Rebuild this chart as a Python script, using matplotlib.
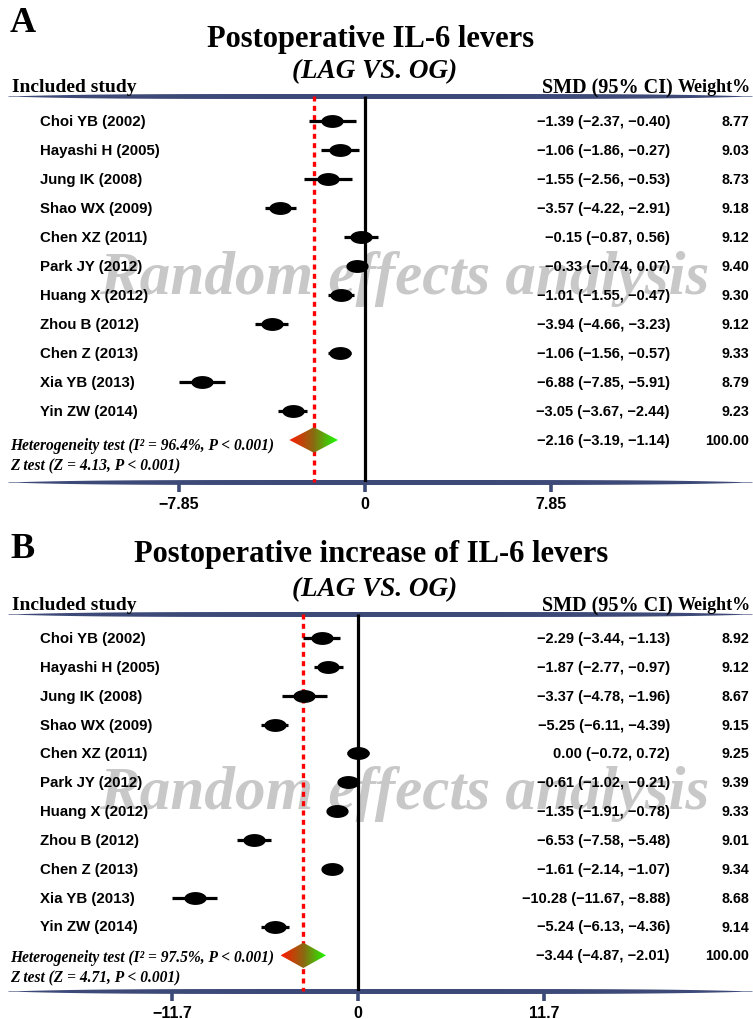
import numpy as np
import matplotlib
matplotlib.use("Agg")
import matplotlib.pyplot as plt
from matplotlib.path import Path
from matplotlib.patches import Polygon
from matplotlib.colors import LinearSegmentedColormap
import matplotlib.transforms as mtransforms

# ---------------- data ----------------
studies = ["Choi YB (2002)", "Hayashi H (2005)", "Jung IK (2008)", "Shao WX (2009)",
           "Chen XZ (2011)", "Park JY (2012)", "Huang X (2012)", "Zhou B (2012)",
           "Chen Z (2013)", "Xia YB (2013)", "Yin ZW (2014)"]

a_smd = [-1.39, -1.06, -1.55, -3.57, -0.15, -0.33, -1.01, -3.94, -1.06, -6.88, -3.05]
a_lo = [-2.37, -1.86, -2.56, -4.22, -0.87, -0.74, -1.55, -4.66, -1.56, -7.85, -3.67]
a_hi = [-0.40, -0.27, -0.53, -2.91, 0.56, 0.07, -0.47, -3.23, -0.57, -5.91, -2.44]
a_w = [8.77, 9.03, 8.73, 9.18, 9.12, 9.40, 9.30, 9.12, 9.33, 8.79, 9.23]
a_pooled = [-2.16, -3.19, -1.14]
a_pooled_w = 100.00
a_ticks = [-7.85, 0, 7.85]
a_title = "Postoperative IL-6 levers"
a_het = "Heterogeneity test (I² = 96.4%, P < 0.001)"
a_z = "Z test (Z = 4.13, P < 0.001)"

b_smd = [-2.29, -1.87, -3.37, -5.25, 0.00, -0.61, -1.35, -6.53, -1.61, -10.28, -5.24]
b_lo = [-3.44, -2.77, -4.78, -6.11, -0.72, -1.02, -1.91, -7.58, -2.14, -11.67, -6.13]
b_hi = [-1.13, -0.97, -1.96, -4.39, 0.72, -0.21, -0.78, -5.48, -1.07, -8.88, -4.36]
b_w = [8.92, 9.12, 8.67, 9.15, 9.25, 9.39, 9.33, 9.01, 9.34, 8.68, 9.14]
b_pooled = [-3.44, -4.87, -2.01]
b_pooled_w = 100.00
b_ticks = [-11.7, 0, 11.7]
b_title = "Postoperative increase of IL-6 levers"
b_het = "Heterogeneity test (I² = 97.5%, P < 0.001)"
b_z = "Z test (Z = 4.71, P < 0.001)"

subtitle = "(LAG VS. OG)"
watermark = "Random effects analysis"

# ---------------- style ----------------
W, H = 753, 1020
SERIF = ["Liberation Serif", "DejaVu Serif"]
SANS = ["Liberation Sans", "DejaVu Sans"]
NAVY = "#3d4a78"

fig = plt.figure(figsize=(W / 100, H / 100), dpi=100)
ov = fig.add_axes([0, 0, 1, 1])
ov.set_xlim(0, W)
ov.set_ylim(H, 0)
ov.axis("off")
ov.set_zorder(0)

# ellipse marker
th = np.linspace(0, 2 * np.pi, 60)
ell = Path(np.column_stack([np.cos(th), 0.55 * np.sin(th)]), closed=True)

cmap = LinearSegmentedColormap.from_list("rg", ["#ff1a00", "#8a6a12", "#1aff00"])


def fmt(v):
    return f"{v:.2f}".replace("-", "\u2212")


def taper(y, x0, x1, thick):
    xs = np.linspace(x0, x1, 400)
    t = (xs - (x0 + x1) / 2) / ((x1 - x0) / 2)
    half = thick / 2 * np.clip(1 - np.abs(t) ** 5, 0.12, 1)
    ov.fill_between(xs, y - half, y + half, color=NAVY, lw=0, zorder=2)


def panel(letter, title, letter_y, title_y, sub_y, head_y, line_y, row0, step,
          axis_y, bottom_y, zero_x, ppu, smd, lo, hi, wts, pooled, pooled_w,
          ticks, het, z, het_y, z_y, wm_y):
    # titles and headers (overlay, pixel coords)
    ov.text(10, letter_y, letter, fontfamily=SERIF, fontweight="bold", fontsize=26,
            ha="left", va="center")
    ov.text(371, title_y, title, fontfamily=SERIF, fontweight="bold", fontsize=22,
            ha="center", va="center")
    ov.text(375, sub_y, subtitle, fontfamily=SERIF, fontweight="bold", style="italic",
            fontsize=19.5, ha="center", va="center")
    ov.text(12, head_y, "Included study", fontfamily=SERIF, fontweight="bold",
            fontsize=14, ha="left", va="center")
    ov.text(673, head_y, "SMD (95% CI)", fontfamily=SERIF, fontweight="bold",
            fontsize=14.5, ha="right", va="center")
    ov.text(751, head_y, "Weight%", fontfamily=SERIF, fontweight="bold",
            fontsize=13, ha="right", va="center")
    taper(line_y, 8, 752, 5)
    taper(axis_y, 8, 752, 5)
    ov.text(404, wm_y, watermark, fontfamily=SERIF, fontweight="bold", style="italic",
            fontsize=44, color="#c8c8c8", ha="center", va="baseline", zorder=1)
    ov.text(10, het_y, het, fontfamily=SERIF, fontweight="bold", style="italic",
            fontsize=11.2, ha="left", va="center")
    ov.text(10, z_y, z, fontfamily=SERIF, fontweight="bold", style="italic",
            fontsize=11.2, ha="left", va="center")

    # data axes spanning full width
    ax = fig.add_axes([0, 1 - bottom_y / H, 1, (bottom_y - line_y) / H])
    ax.set_zorder(2)
    ax.patch.set_alpha(0)
    ax.axis("off")
    n = len(smd)
    rows = np.arange(n)
    top = (line_y - row0) / step
    axis_r = (axis_y - row0) / step
    bottom_r = (bottom_y - row0) / step
    trans = mtransforms.blended_transform_factory(ax.transAxes, ax.transData)

    # zero line and pooled dotted line
    ax.plot([0, 0], [top, axis_r], color="black", lw=2.3, zorder=3, solid_capstyle="butt")
    ax.plot([pooled[0], pooled[0]], [top, axis_r], color="#ff0000", lw=2.4,
            linestyle=(0, (1.5, 1.3)), zorder=2)

    # study CIs
    ax.hlines(rows, lo, hi, color="black", lw=2.3, zorder=4)
    ax.plot(smd, rows, linestyle="none", marker=ell, markersize=15, color="black",
            zorder=5)

    # pooled diamond with red->green gradient
    dh = 0.44
    d_r = n
    verts = [(pooled[1], d_r), (pooled[0], d_r - dh), (pooled[2], d_r), (pooled[0], d_r + dh)]
    poly = Polygon(verts, closed=True, facecolor="none", edgecolor="none",
                   transform=ax.transData)
    ax.add_patch(poly)
    grad = np.linspace(0, 1, 256).reshape(1, -1)
    im = ax.imshow(grad, cmap=cmap, extent=[pooled[1], pooled[2], d_r + dh, d_r - dh],
                   aspect="auto", zorder=4, interpolation="bilinear")
    im.set_clip_path(poly)

    # row texts
    for i in range(n):
        ax.text(40 / W, i, studies[i], transform=trans, fontfamily=SANS,
                fontweight="bold", fontsize=10.8, ha="left", va="center")
        ax.text(670 / W, i, f"{fmt(smd[i])} ({fmt(lo[i])}, {fmt(hi[i])})",
                transform=trans, fontfamily=SANS, fontweight="bold", fontsize=10.5,
                ha="right", va="center")
        ax.text(749 / W, i, f"{wts[i]:.2f}", transform=trans, fontfamily=SANS,
                fontweight="bold", fontsize=10.3, ha="right", va="center")
    ax.text(670 / W, d_r, f"{fmt(pooled[0])} ({fmt(pooled[1])}, {fmt(pooled[2])})",
            transform=trans, fontfamily=SANS, fontweight="bold", fontsize=10.5,
            ha="right", va="center")
    ax.text(749 / W, d_r, f"{pooled_w:.2f}", transform=trans, fontfamily=SANS,
            fontweight="bold", fontsize=10.3, ha="right", va="center")

    # ticks
    tick_len = 10 / step
    for t in ticks:
        ax.plot([t, t], [axis_r, axis_r + tick_len], color=NAVY, lw=2.6,
                solid_capstyle="butt", zorder=3)
        lab = f"{t:g}".replace("-", "\u2212")
        ax.text(t, axis_r + 22 / step, lab, fontfamily=SANS, fontweight="bold",
                fontsize=11.5, ha="center", va="center")

    ax.set_xlim(-zero_x / ppu, (W - zero_x) / ppu)
    ax.set_ylim(bottom_r, top)


panel("A", a_title, 24, 40, 72, 88, 97, 122, 29.0, 483, 520, 365, 23.7,
      a_smd, a_lo, a_hi, a_w, a_pooled, a_pooled_w, a_ticks, a_het, a_z, 446, 466, 294)
panel("B", b_title, 550, 555, 590, 606, 615, 639, 28.85, 992, 1020, 358, 15.9,
      b_smd, b_lo, b_hi, b_w, b_pooled, b_pooled_w, b_ticks, b_het, b_z, 958, 978, 809)

fig.savefig("out.png", dpi=100)
